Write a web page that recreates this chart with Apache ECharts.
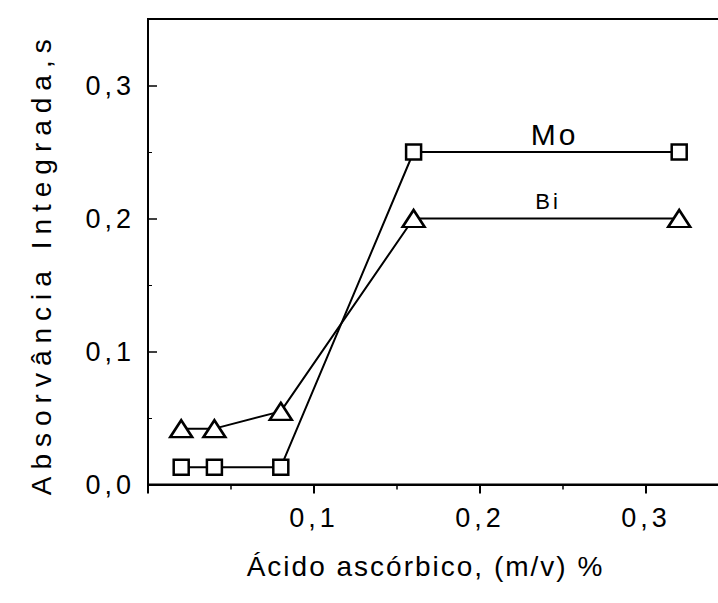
<!DOCTYPE html>
<html>
<head>
<meta charset="utf-8">
<script src="https://cdn.jsdelivr.net/npm/echarts@6/dist/echarts.min.js"></script>
<style>html,body{margin:0;padding:0;background:#fff;overflow:hidden}#c{width:718px;height:603px}</style>
</head>
<body>
<div id="c"></div>
<script>
var xValues = [0.02, 0.04, 0.08, 0.16, 0.32];
var moValues = [0.013, 0.013, 0.013, 0.25, 0.25];
var biValues = [0.042, 0.042, 0.055, 0.20, 0.20];
var yTitle = 'Absorvância Integrada,s';
var xTitle = 'Ácido ascórbico, (m/v) %';
var moLabel = {text: 'Mo', x: 0.245, y: 0.263};
var biLabel = {text: 'Bi', x: 0.241, y: 0.213};

function pairs(xs, ys){ return xs.map(function(x,i){ return [x, ys[i]]; }); }
function fmt(v){ return v.toFixed(1).replace('.', ','); }

var chart = echarts.init(document.getElementById('c'), null, {renderer: 'svg'});
var font = 'Liberation Sans, Arial, sans-serif';
chart.setOption({
  animation: false,
  backgroundColor: '#fff',
  grid: {left: 148, width: 581, top: 19, height: 465.5, outerBoundsMode: 'none', containLabel: false,
         show: true, borderColor: '#000', borderWidth: 2},
  xAxis: {
    type: 'value', min: 0, max: 0.35, interval: 0.1,
    axisLine: {show: true, onZero: false, lineStyle: {color: '#000', width: 2}},
    axisTick: {show: true, inside: false, length: 9, lineStyle: {color: '#000', width: 2}},
    minorTick: {show: true, splitNumber: 2, length: 5, lineStyle: {color: '#000', width: 1.5}},
    splitLine: {show: false},
    axisLabel: {formatter: fmt, showMinLabel: false, showMaxLabel: false, color: '#000', fontSize: 27, fontFamily: font, margin: 20},
    name: xTitle, nameLocation: 'middle', nameGap: 68,
    nameTextStyle: {color: '#000', fontSize: 28, fontFamily: font, padding: [0, 26, 0, 0]}
  },
  yAxis: {
    type: 'value', min: 0, max: 0.35, interval: 0.1,
    axisLine: {show: true, onZero: false, lineStyle: {color: '#000', width: 2}},
    axisTick: {show: true, inside: true, length: 9, lineStyle: {color: '#000', width: 1.5}},
    minorTick: {show: true, splitNumber: 2, length: 4, lineStyle: {color: '#000', width: 1}},
    splitLine: {show: false},
    axisLabel: {formatter: fmt, showMaxLabel: false, color: '#000', fontSize: 27, fontFamily: font, margin: 13},
    name: yTitle, nameLocation: 'middle', nameGap: 93, nameRotate: 90,
    nameTextStyle: {color: '#000', fontSize: 28, fontFamily: font, padding: [0, 24, 0, 0]}
  },
  series: [
    {
      name: 'Mo', type: 'line', data: pairs(xValues, moValues),
      symbol: 'rect', symbolSize: 15, showAllSymbol: true,
      lineStyle: {color: '#000', width: 2},
      itemStyle: {color: '#fff', borderColor: '#000', borderWidth: 2.5},
      markPoint: {
        symbol: 'circle', symbolSize: 0,
        label: {show: true, position: 'inside', formatter: moLabel.text, color: '#000', fontSize: 30, fontFamily: font},
        data: [{coord: [moLabel.x, moLabel.y]}]
      },
      z: 3
    },
    {
      name: 'Bi', type: 'line', data: pairs(xValues, biValues),
      symbol: 'triangle', symbolSize: [22, 17], showAllSymbol: true,
      lineStyle: {color: '#000', width: 2},
      itemStyle: {color: '#fff', borderColor: '#000', borderWidth: 2.5},
      markPoint: {
        symbol: 'circle', symbolSize: 0,
        label: {show: true, position: 'inside', formatter: biLabel.text, color: '#000', fontSize: 22, fontFamily: font},
        data: [{coord: [biLabel.x, biLabel.y]}]
      },
      z: 4
    }
  ]
});

function applySpacing(){
  var texts = document.querySelectorAll('#c svg text');
  texts.forEach(function(t){
    var s = t.textContent;
    var sp = null;
    if (s === yTitle) sp = 7;
    else if (s === xTitle) sp = 2;
    else if (/^\d,\d$/.test(s)) sp = 4;
    else if (s === 'Mo' || s === 'Bi') sp = 3;
    if (sp !== null) t.style.letterSpacing = sp + 'px';
  });
}
applySpacing();
chart.on('finished', applySpacing);
</script>
</body>
</html>
